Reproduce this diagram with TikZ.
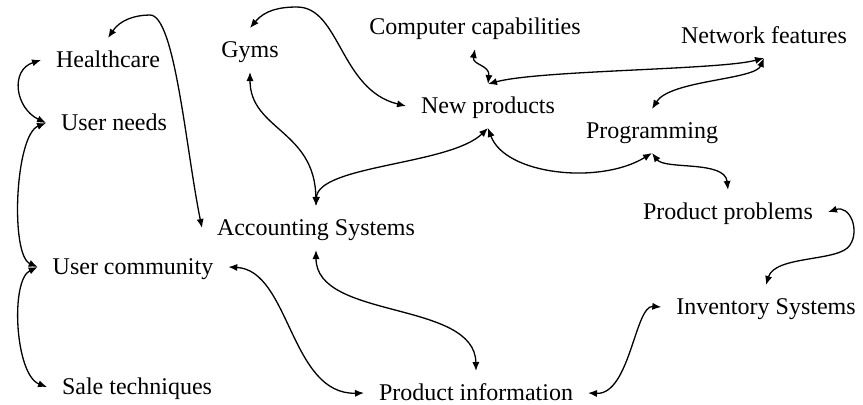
\documentclass[tikz,border=0pt]{standalone}
\usepackage{fontspec}
\setmainfont{Liberation Serif}
\usetikzlibrary{arrows.meta}
\begin{document}
\begin{tikzpicture}[x=0.5pt,y=-0.5pt,
  lbl/.style={font=\fontsize{12}{14}\selectfont, text height=9.5pt, text depth=2.5pt,
    inner xsep=7.5pt, inner ysep=5pt, outer sep=0pt},
  conn/.style={{Latex[length=4.5pt,width=3.6pt]}-{Latex[length=4.5pt,width=3.6pt]}, line width=0.65pt}]
\useasboundingbox (0,0) rectangle (863,404);
\node[lbl] (hc)  at (108,60)  {Healthcare};
\node[lbl] (un)  at (114,123) {User needs};
\node[lbl] (gy)  at (250,50)  {Gyms};
\node[lbl] (cc)  at (475,27)  {Computer capabilities};
\node[lbl] (nf)  at (764,36)  {Network features};
\node[lbl] (np)  at (488,106) {New products};
\node[lbl] (pg)  at (652,131) {Programming};
\node[lbl] (pp)  at (728,212) {Product problems};
\node[lbl] (acc) at (316,228) {Accounting Systems};
\node[lbl] (uc)  at (133,267) {User community};
\node[lbl] (inv) at (766,307) {Inventory Systems};
\node[lbl] (st)  at (137,387) {Sale techniques};
\node[lbl] (pi)  at (476,393) {Product information};
% edges
\draw[conn] (hc.west) .. controls (10,70) and (15,108) .. (un.west);
\draw[conn] (hc.north) .. controls (120,20) and (135,15) .. (150,15) .. controls (175,15) and (186,150) .. (acc.west);
\draw[conn] (un.west) .. controls (15,135) and (10,255) .. (uc.west);
\draw[conn] (uc.west) .. controls (10,280) and (15,375) .. (st.west);
\draw[conn] (gy.north) .. controls (265,10) and (280,7) .. (297,7) .. controls (340,7) and (340,90) .. (np.west);
\draw[conn] (gy.south) .. controls (250,130) and (315,130) .. (acc.north);
\draw[conn] (acc.north) .. controls (318,165) and (450,165) .. (np.south);
\draw[conn] (np.south) .. controls (505,175) and (600,185) .. (pg.south);
\draw[conn] (pg.south) .. controls (665,170) and (725,160) .. (pp.north);
\draw[conn] (cc.south) .. controls (472,65) and (490,65) .. (np.north);
\draw[conn] (np.north) .. controls (540,70) and (720,70) .. (nf.south);
\draw[conn] (nf.south) .. controls (755,80) and (670,80) .. (pg.north);
\draw[conn] (pp.east) .. controls (850,205) and (860,230) .. (850,245) .. controls (840,262) and (775,255) .. (inv.north);
\draw[conn] (inv.west) .. controls (635,305) and (630,395) .. (pi.east);
\draw[conn] (uc.east) .. controls (290,270) and (290,395) .. (pi.west);
\draw[conn] (acc.south) .. controls (316,320) and (475,300) .. (pi.north);
\end{tikzpicture}
\end{document}
